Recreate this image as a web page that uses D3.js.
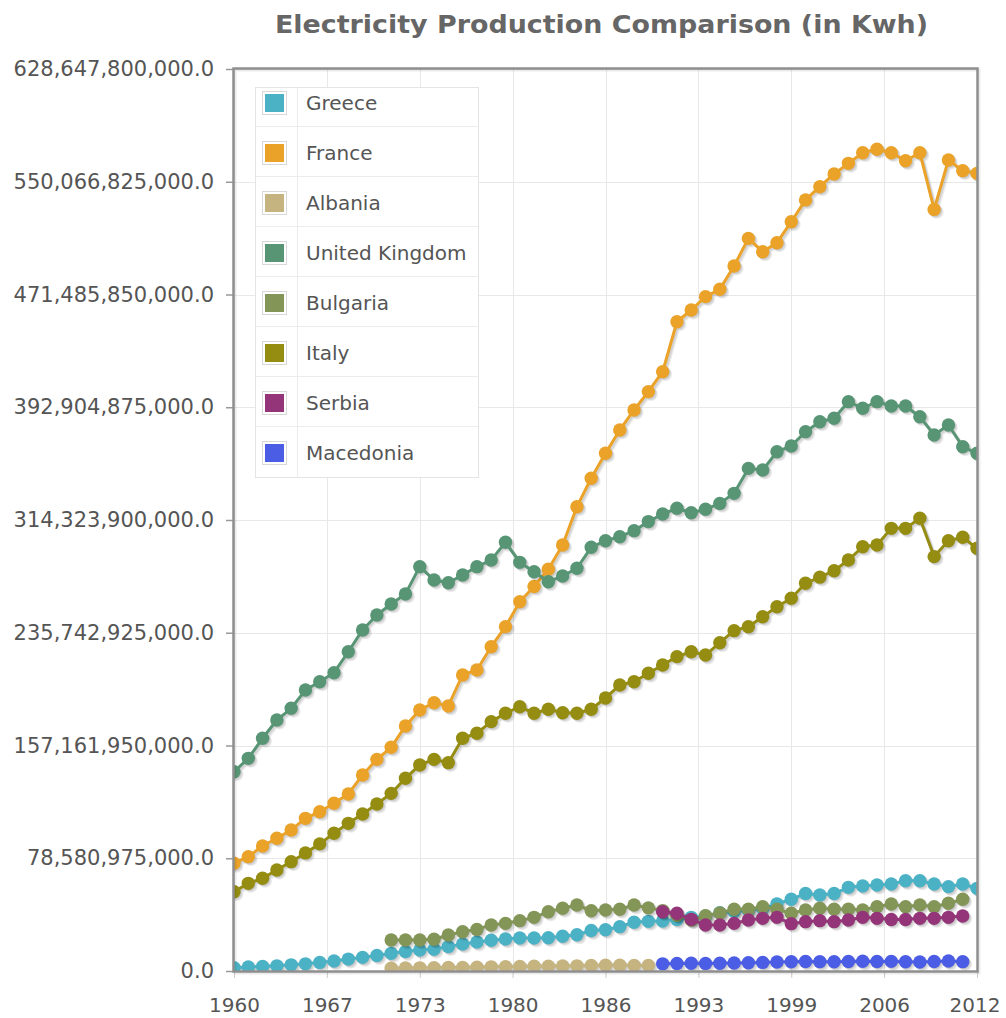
<!DOCTYPE html>
<html>
<head>
<meta charset="utf-8">
<script src="https://cdn.jsdelivr.net/npm/d3@7"></script>
<style>
  body { margin: 0; background: #fff; }
  svg { display: block; font-family: "DejaVu Sans", sans-serif; }
</style>
</head>
<body>
<svg id="chart" width="1006" height="1018"></svg>
<script>
// ---------- DATA (billion kWh) ----------
const seriesNames = ["Greece", "France", "Albania", "United Kingdom", "Bulgaria", "Italy", "Serbia", "Macedonia"];
const seriesStartYears = [1960, 1960, 1971, 1960, 1971, 1960, 1990, 1990];

const greece = [2.3, 2.8, 3.2, 3.6, 4.3, 5.0, 6.0, 7.0, 8.3, 9.5,
  10.8, 12.3, 13.6, 14.6, 15.2, 17.0, 18.8, 20.2, 21.4, 22.3,
  23.0, 23.0, 23.2, 24.2, 25.3, 28.2, 28.8, 30.9, 34.0, 34.6,
  34.8, 35.9, 37.4, 38.4, 40.6, 41.4, 42.4, 43.5, 46.8, 50.0,
  54.0, 53.0, 54.0, 58.3, 59.2, 59.9, 60.6, 62.9, 62.9, 60.6,
  58.8, 60.6, 57.6];
const france = [75.1, 79.7, 87.1, 92.5, 98.3, 106.4, 111.0, 116.9, 123.4, 136.6,
  147.5, 155.9, 170.8, 181.9, 187.0, 184.7, 206.3, 209.8, 226.0, 240.0,
  257.4, 268.0, 280.0, 296.9, 323.6, 343.4, 360.8, 377.1, 391.0, 403.8,
  417.7, 452.5, 460.7, 470.0, 475.1, 491.4, 510.6, 501.3, 507.6, 522.2,
  537.4, 546.6, 555.5, 562.9, 570.3, 572.7, 570.3, 564.7, 570.3, 530.8,
  565.2, 557.8, 555.9];
const albania = [2.0, 2.1, 2.2, 2.3, 2.4, 2.5, 2.7, 2.9, 3.0,
  3.2, 3.3, 3.4, 3.5, 3.6, 3.8, 4.0, 4.0, 3.9, 3.9];
const unitedKingdom = [138.9, 148.2, 162.2, 174.9, 183.1, 195.8, 201.6, 207.9, 222.5, 237.7,
  248.1, 255.8, 262.8, 281.8, 272.5, 270.6, 276.0, 281.8, 286.4, 298.8,
  284.8, 278.3, 271.3, 275.3, 280.7, 295.3, 299.9, 302.7, 306.9, 313.2,
  318.5, 322.5, 319.4, 321.8, 325.9, 332.9, 350.3, 349.2, 361.9, 365.9,
  375.9, 382.8, 385.2, 396.8, 392.2, 396.8, 393.8, 393.8, 386.3, 373.6,
  380.5, 365.4, 360.8];
const bulgaria = [21.6, 21.6, 21.6, 22.1, 25.1, 27.4, 29.0, 32.1, 33.2,
  35.1, 37.4, 41.3, 43.7, 46.0, 42.0, 42.5, 43.0, 46.0, 44.0,
  42.1, 38.9, 35.6, 38.5, 40.5, 43.0, 43.0, 44.8, 43.0, 40.2,
  42.5, 43.7, 43.0, 43.0, 42.5, 44.8, 46.7, 44.8, 46.0, 44.8,
  47.2, 50.0];
const italy = [55.3, 61.1, 64.6, 70.4, 76.2, 82.3, 88.6, 96.0, 102.9, 109.4,
  116.4, 123.8, 134.3, 143.6, 147.5, 145.2, 162.2, 165.7, 173.8, 179.6,
  184.2, 179.6, 182.4, 180.0, 179.6, 182.4, 190.3, 199.3, 201.6, 207.5,
  213.3, 219.1, 222.5, 220.2, 228.8, 237.2, 240.0, 246.9, 253.9, 259.8,
  270.2, 274.5, 279.0, 286.4, 295.7, 296.9, 308.5, 308.5, 315.5, 288.8,
  299.9, 302.3, 294.6];
const serbia = [41.3, 40.2, 36.0, 32.1, 32.1, 33.2, 35.5, 36.7, 37.4, 33.0,
  34.4, 35.1, 34.4, 35.5, 37.4, 36.7, 35.9, 35.9, 36.7, 36.7,
  37.4, 38.3];
const macedonia = [5.0, 5.2, 5.4, 5.3, 5.4, 5.6, 5.8, 6.0, 6.3, 6.4,
  6.6, 6.5, 6.4, 6.6, 6.8, 6.6, 6.7, 6.4, 6.3, 6.6,
  7.0, 6.5];
const seriesValues = [greece, france, albania, unitedKingdom, bulgaria, italy, serbia, macedonia];

const xTickValues = [1960, 1966.5, 1973, 1979.5, 1986, 1992.5, 1999, 2005.5, 2012];
const xTickLabels = ["1960", "1967", "1973", "1980", "1986", "1993", "1999", "2006", "2012"];
const yTickValues = [0, 78580975000, 157161950000, 235742925000, 314323900000,
  392904875000, 471485850000, 550066825000, 628647800000];
const yTickLabels = ["0.0", "78,580,975,000.0", "157,161,950,000.0", "235,742,925,000.0",
  "314,323,900,000.0", "392,904,875,000.0", "471,485,850,000.0", "550,066,825,000.0",
  "628,647,800,000.0"];
const titleText = "Electricity Production Comparison (in Kwh)";

// ---------- STYLE ----------
const colors = ["#4bb2c5", "#EAA228", "#c5b47f", "#579575", "#839557", "#958c12", "#953579", "#4b5de4"];
const W = 1006, H = 1018;
const plot = { left: 234, right: 977, top: 69, bottom: 971 };
const R = 6.7;

const svg = d3.select("#chart");
svg.append("rect").attr("width", W).attr("height", H).attr("fill", "#fff");

const x = d3.scaleLinear().domain([1960, 2012]).range([plot.left, plot.right]);
const y = d3.scaleLinear().domain([0, 628647800000]).range([plot.bottom, plot.top]);

// title
svg.append("text")
  .attr("x", (275 + 928) / 2).attr("y", 32.5)
  .attr("text-anchor", "middle")
  .attr("font-size", 25).attr("font-weight", "bold")
  .attr("fill", "#666")
  .attr("textLength", 653).attr("lengthAdjust", "spacingAndGlyphs")
  .text(titleText);

// gridlines
const grid = svg.append("g");
grid.selectAll("line.h").data(yTickValues).join("line")
  .attr("x1", plot.left).attr("x2", plot.right)
  .attr("y1", d => Math.round(y(d)) + 0.5).attr("y2", d => Math.round(y(d)) + 0.5)
  .attr("stroke", "#e8e8e8").attr("stroke-width", 1);
grid.selectAll("line.v").data(xTickValues).join("line")
  .attr("x1", d => Math.round(x(d)) + 0.5).attr("x2", d => Math.round(x(d)) + 0.5)
  .attr("y1", plot.top).attr("y2", plot.bottom)
  .attr("stroke", "#e8e8e8").attr("stroke-width", 1);

// axes (d3 axes with custom labels)
const yAxis = d3.axisLeft(y).tickValues(yTickValues)
  .tickFormat((d, i) => yTickLabels[i]).tickSize(8).tickPadding(12);
const gy = svg.append("g").attr("transform", `translate(${plot.left},0)`).call(yAxis);
gy.select(".domain").remove();
gy.selectAll(".tick line").attr("stroke", "#999").attr("stroke-width", 1.5);
gy.selectAll(".tick text").attr("font-size", 21).attr("fill", "#555")
  .attr("font-family", "DejaVu Sans, sans-serif");

const xAxis = d3.axisBottom(x).tickValues(xTickValues)
  .tickFormat((d, i) => xTickLabels[i]).tickSize(7).tickPadding(20);
const gx = svg.append("g").attr("transform", `translate(0,${plot.bottom})`).call(xAxis);
gx.select(".domain").remove();
gx.selectAll(".tick line").attr("stroke", "#ccc").attr("stroke-width", 1);
gx.selectAll(".tick text").attr("font-size", 20).attr("fill", "#555")
  .attr("font-family", "DejaVu Sans, sans-serif");
gx.selectAll(".tick text").filter((d, i, n) => i === n.length - 1)
  .attr("text-anchor", "end").attr("x", 1000 - plot.right);

// clip
svg.append("clipPath").attr("id", "plotClip").append("rect")
  .attr("x", plot.left).attr("y", plot.top)
  .attr("width", plot.right - plot.left).attr("height", plot.bottom - plot.top);

const seriesData = seriesValues.map((vals, s) =>
  vals.map((v, i) => ({ year: seriesStartYears[s] + i, value: v * 1e9 })));

const line = d3.line().x(d => x(d.year)).y(d => y(d.value));
const plotG = svg.append("g").attr("clip-path", "url(#plotClip)");

seriesData.forEach((data, s) => {
  const g = plotG.append("g");
  // shadow layers
  for (let k = 3; k >= 1; k--) {
    const sh = g.append("g").attr("opacity", 0.07)
      .attr("transform", `translate(${k * 0.9},${k * 0.9})`);
    sh.append("path").datum(data).attr("d", line)
      .attr("fill", "none").attr("stroke", "#000").attr("stroke-width", 3);
    sh.selectAll("circle").data(data).join("circle")
      .attr("cx", d => x(d.year)).attr("cy", d => y(d.value)).attr("r", R).attr("fill", "#000");
  }
  g.append("path").datum(data).attr("d", line)
    .attr("fill", "none").attr("stroke", colors[s]).attr("stroke-width", 3)
    .attr("stroke-linejoin", "round");
  g.selectAll("circle.pt").data(data).join("circle").attr("class", "pt")
    .attr("cx", d => x(d.year)).attr("cy", d => y(d.value)).attr("r", R)
    .attr("fill", colors[s]);
});

// plot border with faint shadow
svg.append("rect")
  .attr("x", plot.left + 1).attr("y", plot.top + 1)
  .attr("width", plot.right - plot.left + 1).attr("height", plot.bottom - plot.top + 1)
  .attr("fill", "none").attr("stroke", "rgba(0,0,0,0.08)").attr("stroke-width", 3);
svg.append("rect")
  .attr("x", plot.left - 0.5).attr("y", plot.top - 0.5)
  .attr("width", plot.right - plot.left + 1).attr("height", plot.bottom - plot.top + 1)
  .attr("fill", "none").attr("stroke", "#8f8f8f").attr("stroke-width", 2.5);

// legend
const lg = svg.append("g");
const lgLeft = 255, lgRight = 478, lgTop = 87, lgBottom = 477;
const rowCenters = seriesNames.map((d, i) => 103 + i * 50);
lg.append("rect").attr("x", lgLeft + 0.5).attr("y", lgTop + 0.5)
  .attr("width", lgRight - lgLeft).attr("height", lgBottom - lgTop)
  .attr("fill", "#fff").attr("stroke", "#e4e4e4");
lg.selectAll("line.sep").data(rowCenters.slice(0, -1)).join("line")
  .attr("x1", lgLeft + 1).attr("x2", lgRight)
  .attr("y1", d => d + 23.5).attr("y2", d => d + 23.5)
  .attr("stroke", "#ececec");
lg.append("line").attr("x1", 297.5).attr("x2", 297.5)
  .attr("y1", lgTop + 1).attr("y2", lgBottom).attr("stroke", "#ececec");
const rows = lg.selectAll("g.row").data(seriesNames).join("g")
  .attr("transform", (d, i) => `translate(0,${rowCenters[i]})`);
rows.append("rect").attr("x", 262.5).attr("y", -11.5).attr("width", 24).attr("height", 23)
  .attr("fill", "#fff").attr("stroke", "#d8d8d8");
rows.append("rect").attr("x", 265).attr("y", -9).attr("width", 19).attr("height", 18)
  .attr("fill", (d, i) => colors[i]);
rows.append("text").attr("x", 306).attr("y", 0).attr("dy", "0.35em")
  .attr("font-size", 20).attr("fill", "#555").text(d => d);
</script>
</body>
</html>
